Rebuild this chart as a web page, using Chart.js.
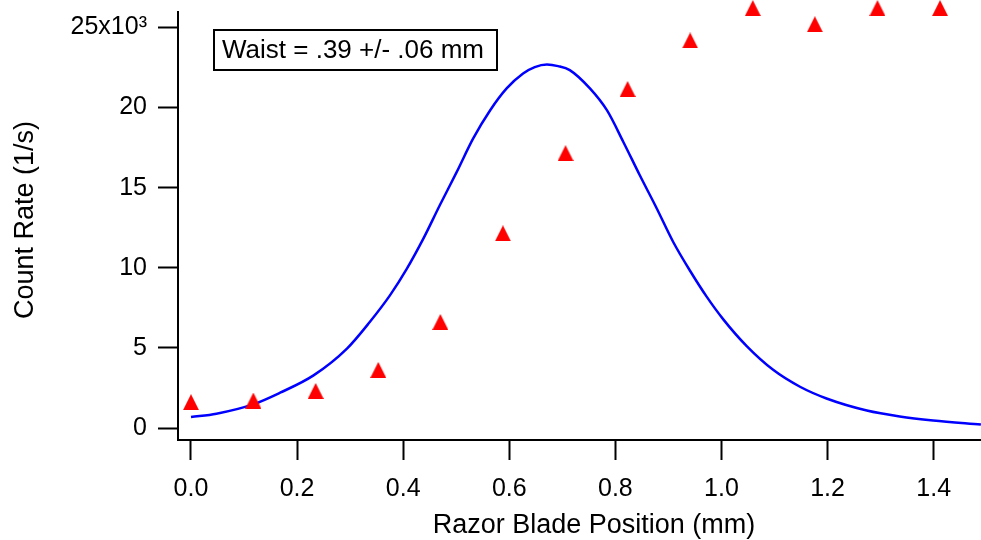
<!DOCTYPE html>
<html>
<head>
<meta charset="utf-8">
<script src="https://cdn.jsdelivr.net/npm/chart.js@4.4.1/dist/chart.umd.min.js"></script>
<style>
  html, body { margin: 0; padding: 0; background: #ffffff; overflow: hidden; }
  #wrap { width: 981px; height: 540px; position: relative; }
  #c { display: block; }
</style>
</head>
<body>
<div id="wrap"><canvas id="c"></canvas></div>
<script>
// ---- data ----
const positionMm = [0, 0.1175, 0.235, 0.353, 0.47, 0.588, 0.706, 0.823, 0.941, 1.059, 1.176, 1.294, 1.412];
const countRate  = [1620, 1720, 2320, 3630, 6620, 12150, 17150, 21150, 24180, 26200, 25190, 26200, 26200];

const fitX = [0, 0.048, 0.117, 0.168, 0.231, 0.294, 0.337, 0.375, 0.407, 0.438, 0.469, 0.501, 0.532, 0.564, 0.595, 0.626, 0.648, 0.671, 0.692, 0.714, 0.752, 0.784, 0.815, 0.846, 0.878, 0.909, 0.941, 0.972, 1.003, 1.048, 1.098, 1.148, 1.198, 1.274, 1.336, 1.399, 1.489];
const fitY = [690, 900, 1480, 2210, 3290, 4960, 6620, 8280, 9950, 11820, 13900, 15980, 18070, 19830, 21190, 22120, 22520, 22680, 22580, 22330, 21190, 19830, 17850, 15770, 13700, 11610, 9800, 8200, 6800, 5100, 3620, 2580, 1850, 1100, 730, 480, 230];

const xTicks = [0, 0.2, 0.4, 0.6, 0.8, 1.0, 1.2, 1.4];
const yTicks = [0, 5000, 10000, 15000, 20000, 25000];

const xTitle = 'Razor Blade Position (mm)';
const yTitle = 'Count Rate (1/s)';
const noteText = 'Waist = .39 +/- .06 mm';

// ---- styling ----
const FONT = '"Liberation Sans", Arial, Helvetica, sans-serif';

function triangleMarker(size, color) {
  const c = document.createElement('canvas');
  c.width = size; c.height = size;
  const g = c.getContext('2d');
  g.fillStyle = color;
  g.beginPath();
  g.moveTo(size / 2, 0);
  g.lineTo(size, size);
  g.lineTo(0, size);
  g.closePath();
  g.fill();
  return c;
}

function noPadding(s) {
  s.paddingLeft = 0; s.paddingRight = 0; s.paddingTop = 0; s.paddingBottom = 0;
}

const overlay = {
  id: 'overlay',
  afterDraw(chart) {
    const ctx = chart.ctx;
    ctx.save();
    // annotation box
    ctx.fillStyle = '#ffffff';
    ctx.fillRect(214, 30, 283, 40);
    ctx.strokeStyle = '#000000';
    ctx.lineWidth = 2;
    ctx.strokeRect(214, 30, 283, 40);
    ctx.fillStyle = '#000000';
    ctx.font = '26px ' + FONT;
    ctx.textAlign = 'left';
    ctx.textBaseline = 'alphabetic';
    ctx.fillText(noteText, 222, 58);
    // axis titles
    ctx.font = '27px ' + FONT;
    ctx.textAlign = 'center';
    ctx.fillText(xTitle, 594, 533);
    ctx.translate(33, 220);
    ctx.rotate(-Math.PI / 2);
    ctx.fillText(yTitle, 0, 0);
    ctx.restore();
  }
};

new Chart(document.getElementById('c'), {
  type: 'scatter',
  data: {
    datasets: [
      {
        label: 'fit',
        data: fitX.map((x, i) => ({ x: x, y: fitY[i] })),
        showLine: true,
        borderColor: '#0000ff',
        borderWidth: 2.5,
        borderJoinStyle: 'round',
        pointRadius: 0,
        cubicInterpolationMode: 'monotone',
        clip: false,
        order: 2
      },
      {
        label: 'data',
        data: positionMm.map((x, i) => ({ x: x, y: countRate[i] })),
        showLine: false,
        pointStyle: triangleMarker(16, '#ff0000'),
        pointRadius: 8,
        backgroundColor: '#ff0000',
        borderColor: '#ff0000',
        clip: false,
        order: 1
      }
    ]
  },
  options: {
    responsive: true,
    maintainAspectRatio: false,
    animation: false,
    devicePixelRatio: 1,
    layout: { autoPadding: false, padding: { left: 0, top: 12, right: 0, bottom: 0 } },
    plugins: { legend: { display: false }, tooltip: { enabled: false } },
    scales: {
      x: {
        type: 'linear',
        min: -0.0245,
        max: 1.4892,
        afterBuildTicks: s => { s.ticks = xTicks.map(v => ({ value: v })); },
        afterFit: s => { s.height = 100; noPadding(s); },
        grid: { drawOnChartArea: false, drawTicks: true, tickLength: 20, tickColor: '#000', tickWidth: 2 },
        border: { display: true, color: '#000', width: 2 },
        ticks: {
          color: '#000',
          font: { family: FONT, size: 25 },
          padding: 14,
          maxRotation: 0,
          autoSkip: false,
          callback: v => v.toFixed(1)
        }
      },
      y: {
        type: 'linear',
        min: -740,
        max: 25955,
        afterBuildTicks: s => { s.ticks = yTicks.map(v => ({ value: v })); },
        afterFit: s => { s.width = 178; noPadding(s); },
        grid: { drawOnChartArea: false, drawTicks: true, tickLength: 20, tickColor: '#000', tickWidth: 2 },
        border: { display: true, color: '#000', width: 2 },
        ticks: {
          color: '#000',
          font: { family: FONT, size: 25 },
          padding: 11,
          autoSkip: false,
          callback: v => (v === 25000 ? '25x10\u00B3' : String(v / 1000))
        }
      }
    }
  },
  plugins: [overlay]
});
</script>
</body>
</html>
